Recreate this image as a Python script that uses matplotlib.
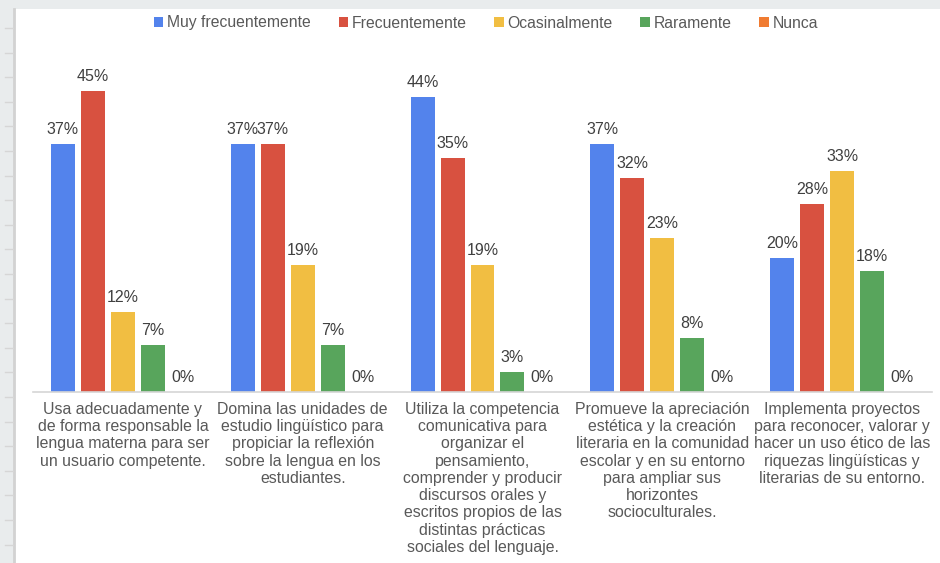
import numpy as np
import matplotlib as mpl
mpl.use('Agg')
import matplotlib.pyplot as plt
from matplotlib.patches import Patch, Rectangle
from matplotlib.lines import Line2D

plt.rcParams['font.family'] = ['Liberation Sans', 'DejaVu Sans']

# data
series = ['Muy frecuentemente', 'Frecuentemente', 'Ocasinalmente', 'Raramente', 'Nunca']
colors = ['#5383EC', '#D85140', '#F1BE42', '#58A55C', '#F07B31']
categories = [
    'Usa adecuadamente y\nde forma responsable la\nlengua materna para ser\nun usuario competente.',
    'Domina las unidades de\nestudio lingüístico para\npropiciar la reflexión\nsobre la lengua en los\nestudiantes.',
    'Utiliza la competencia\ncomunicativa para\norganizar el\npensamiento,\ncomprender y producir\ndiscursos orales y\nescritos propios de las\ndistintas prácticas\nsociales del lenguaje.',
    'Promueve la apreciación\nestética y la creación\nliteraria en la comunidad\nescolar y en su entorno\npara ampliar sus\nhorizontes\nsocioculturales.',
    'Implementa proyectos\npara reconocer, valorar y\nhacer un uso ético de las\nriquezas lingüísticas y\nliterarias de su entorno.',
]
muy_frec = [37, 37, 44, 37, 20]
frec = [45, 37, 35, 32, 28]
ocasional = [12, 19, 19, 23, 33]
raramente = [7, 7, 3, 8, 18]
nunca = [0, 0, 0, 0, 0]
values = [muy_frec, frec, ocasional, raramente, nunca]

W, H = 940, 563
fig = plt.figure(figsize=(W / 100, H / 100), dpi=100)
fig.patch.set_facecolor('#e9eced')

# white slide panel + ruler on the left
fig.patches.append(Rectangle((14 / W, 0), 1, (H - 9) / H, transform=fig.transFigure,
                             facecolor='white', edgecolor='none', zorder=-2))
fig.lines.append(Line2D([14 / W, 14 / W], [0, (H - 9) / H], transform=fig.transFigure,
                        color='#d2d2d2', lw=2, zorder=-1))
for yy in np.arange(28, H, 24.6):
    fig.lines.append(Line2D([5 / W, 13 / W], [1 - yy / H] * 2, transform=fig.transFigure,
                            color='#d6d6d6', lw=1, zorder=-1))

ax = fig.add_axes([33 / W, (H - 392) / H, 899 / W, 335 / H])
ax.set_facecolor('none')

x = np.arange(len(categories))
step = 30 / 180
width = 24 / 180
for i, (name, vals, c) in enumerate(zip(series, values, colors)):
    pos = x + (i - 2) * step
    ax.bar(pos, vals, width=width, color=c, label=name)
    for px, v in zip(pos, vals):
        ax.annotate('%d%%' % v, (px, v), xytext=(0, 5), textcoords='offset points',
                    ha='center', va='bottom', fontsize=11.5, color='#404040')

ax.set_xlim(-0.5, 4.5)
ax.set_ylim(0, 50)
ax.set_yticks([])
ax.set_xticks(x)
ax.set_xticklabels(categories, fontsize=11.4, color='#595959', linespacing=1.19,
                   ha='center', multialignment='center')
ax.tick_params(axis='x', length=0, pad=7)
for s in ['top', 'right', 'left']:
    ax.spines[s].set_visible(False)
ax.spines['bottom'].set_color('#d6d6d6')
ax.spines['bottom'].set_linewidth(1.2)

handles = [Patch(facecolor=c, edgecolor='none') for c in colors]
leg = fig.legend(handles, series, loc='center', bbox_to_anchor=(486 / W, 1 - 23 / H),
                 ncol=5, frameon=False, fontsize=11.3, handlelength=0.6, handleheight=0.6,
                 handletextpad=0.25, columnspacing=1.75)
for t in leg.get_texts():
    t.set_color('#595959')

fig.savefig('out.png', dpi=100, facecolor=fig.get_facecolor())
